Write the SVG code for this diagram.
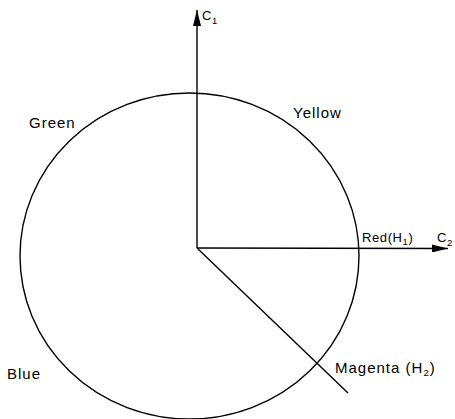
<svg xmlns="http://www.w3.org/2000/svg" width="455" height="419" viewBox="0 0 455 419">
<style>
.ln{stroke:#000;stroke-width:1.4;fill:none}
.lbl{font-family:"Liberation Sans",Arial,sans-serif;font-size:15px;letter-spacing:1px;fill:#000}
.ax{font-family:"Liberation Sans",Arial,sans-serif;font-size:13px;letter-spacing:0.6px;fill:#000}
.sub{font-size:9.5px}
</style>
<defs>
<marker id="arr" viewBox="0 0 16 8" refX="16" refY="4" markerWidth="16" markerHeight="8" markerUnits="userSpaceOnUse" orient="auto">
<path d="M0,0 L16,4 L0,8 Z" fill="#000"/>
</marker>
</defs>
<g id="circle"><ellipse class="ln" cx="189.5" cy="256" rx="169.5" ry="163"/></g>
<g id="connectors">
<line class="ln" x1="197" y1="248" x2="197" y2="10" marker-end="url(#arr)"/>
<line class="ln" x1="197" y1="248" x2="448" y2="248.5" marker-end="url(#arr)"/>
<line class="ln" x1="197" y1="248" x2="348" y2="393"/>
</g>
<g id="labels">
<text class="ax" x="202" y="20">C<tspan class="sub" dy="3.5">1</tspan></text>
<text class="lbl" x="293" y="118">Yellow</text>
<text class="lbl" x="29" y="128">Green</text>
<text class="ax" x="362" y="242">Red(H<tspan class="sub" dy="3">1</tspan><tspan dy="-3">)</tspan></text>
<text class="ax" x="437" y="242">C<tspan class="sub" dy="3.5">2</tspan></text>
<text class="lbl" x="335" y="373">Magenta (H<tspan class="sub" dy="3">2</tspan><tspan dy="-3">)</tspan></text>
<text class="lbl" x="7" y="379">Blue</text>
</g>
</svg>
